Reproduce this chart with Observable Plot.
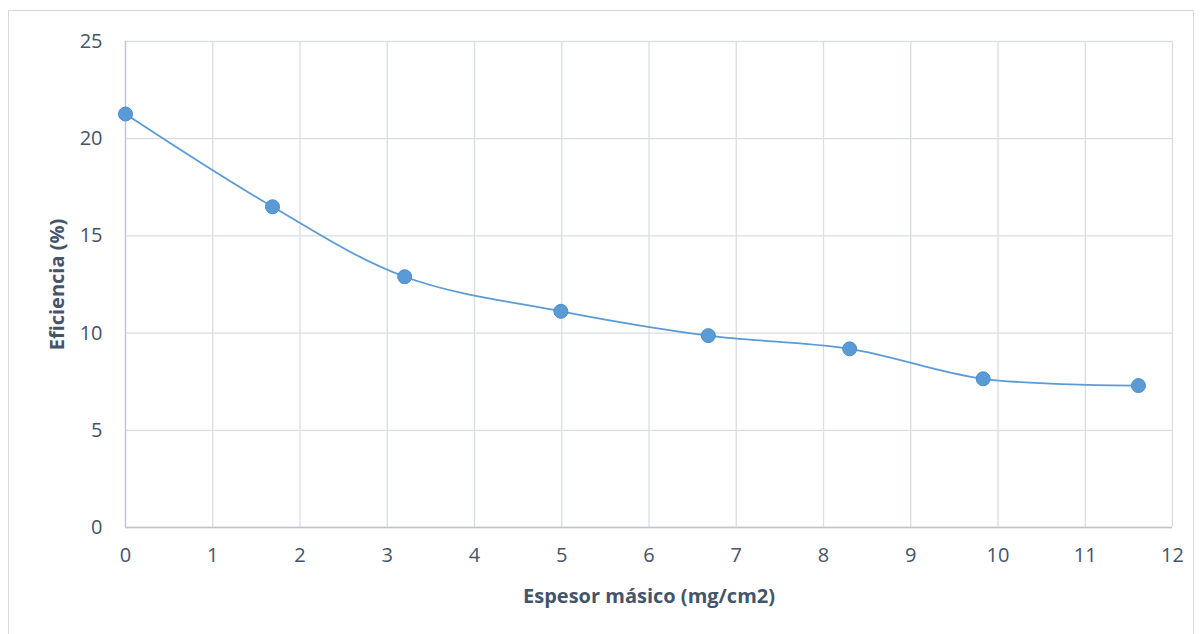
<!DOCTYPE html>
<html>
<head>
<meta charset="utf-8">
<script src="https://cdn.jsdelivr.net/npm/d3@7"></script>
<script src="https://cdn.jsdelivr.net/npm/@observablehq/plot@0.6"></script>
<style>
  html, body { margin: 0; padding: 0; background: #fff; }
  #wrap { position: relative; width: 1203px; height: 634px; }
  #border { position: absolute; left: 8px; top: 10px; width: 1186px; height: 630px; border: 1px solid #d9d9d9; box-sizing: border-box; pointer-events: none; }
</style>
</head>
<body>
<div id="wrap"><div id="border"></div></div>
<script>
const espesor = [0, 1.685, 3.2, 4.99, 6.68, 8.30, 9.83, 11.61];
const eficiencia = [21.27, 16.50, 12.90, 11.12, 9.87, 9.19, 7.65, 7.30];
const xTicks = [0,1,2,3,4,5,6,7,8,9,10,11,12];
const yTicks = [0,5,10,15,20,25];
const xTitle = "Espesor másico (mg/cm2)";
const yTitle = "Eficiencia (%)";

const data = espesor.map((x, i) => ({x, y: eficiencia[i]}));
const blue = "#5b9bd5";
const textColor = "#44546a";

const chart = Plot.plot({
  width: 1203,
  height: 634,
  marginLeft: 125,
  marginRight: 31,
  marginTop: 41,
  marginBottom: 107,
  style: { fontFamily: "'Open Sans', sans-serif", fontSize: "20px", color: textColor, background: "transparent" },
  x: { domain: [0, 12], ticks: xTicks, tickSize: 0, label: null },
  y: { domain: [0, 25], ticks: yTicks, tickSize: 0, label: null },
  marks: [
    Plot.gridX(xTicks, { stroke: "#d9dde4", strokeOpacity: 1, strokeWidth: 1.3 }),
    Plot.gridY(yTicks, { stroke: "#d9dde4", strokeOpacity: 1, strokeWidth: 1.3 }),
    Plot.ruleX([0], { stroke: "#bfc5d0", strokeWidth: 1.3 }),
    Plot.ruleY([0], { stroke: "#bfc5d0", strokeWidth: 1.3 }),
    Plot.axisX({ ticks: xTicks, tickSize: 0, tickPadding: 20, fill: textColor, fontSize: 20, label: null }),
    Plot.axisY({ ticks: yTicks, tickSize: 0, tickPadding: 23, fill: textColor, fontSize: 20, label: null }),
    Plot.line(data, { x: "x", y: "y", stroke: blue, strokeWidth: 1.8, curve: "catmull-rom" }),
    Plot.dot(data, { x: "x", y: "y", r: 7, fill: blue, stroke: "#4a8ccc", strokeWidth: 1 }),
    Plot.text([xTitle], { frameAnchor: "bottom", lineAnchor: "middle", textAnchor: "middle", dy: 69, fontWeight: "bold", fill: textColor, fontSize: 20 }),
    Plot.text([yTitle], { frameAnchor: "left", lineAnchor: "middle", textAnchor: "middle", dx: -68, rotate: -90, fontWeight: "bold", fill: textColor, fontSize: 20 })
  ]
});
document.getElementById("wrap").appendChild(chart);
</script>
</body>
</html>
